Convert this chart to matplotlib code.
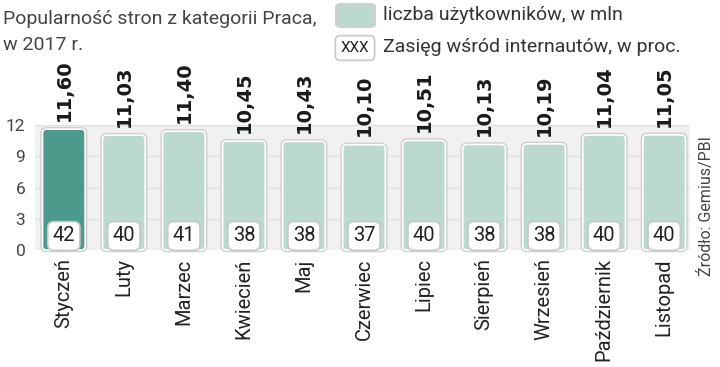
import matplotlib.pyplot as plt
from matplotlib.patches import FancyBboxPatch

miesiace = ["Styczeń", "Luty", "Marzec", "Kwiecień", "Maj", "Czerwiec", "Lipiec",
            "Sierpień", "Wrzesień", "Październik", "Listopad"]
uzytkownicy = [11.60, 11.03, 11.40, 10.45, 10.43, 10.10, 10.51, 10.13, 10.19, 11.04, 11.05]
zasieg = [42, 40, 41, 38, 38, 37, 40, 38, 38, 40, 40]
y_ticks = [0, 3, 6, 9, 12]

ciemny = "#4b9a8b"
jasny = "#bcd9d1"
plt.rcParams['font.family'] = ['Roboto', 'DejaVu Sans']

fig = plt.figure(figsize=(7.2, 3.67), dpi=100)
ax = fig.add_axes([35 / 720, 117 / 367, 655 / 720, 125 / 367])
ax.set_facecolor("#f1f1f1")
ax.set_ylim(0, 12)
ax.set_xlim(-0.48, 10.43)

x = list(range(len(miesiace)))
kolory = [ciemny] + [jasny] * (len(miesiace) - 1)
bars = ax.bar(x, uzytkownicy, width=0.71, color=kolory, zorder=2)

# zaokraglone slupki: szary cien + biala obwodka
aspekt = 60 / 10.4
for b, k in zip(bars, kolory):
    b.set_visible(False)
    for ec, lw, z in [("#cfcfcf", 3.2, 3), ("white", 1.2, 4)]:
        p = FancyBboxPatch((b.get_x(), 0), b.get_width(), b.get_height(),
                           boxstyle="round,pad=0,rounding_size=0.07",
                           mutation_aspect=aspekt,
                           facecolor=k, edgecolor=ec, linewidth=lw,
                           zorder=z, clip_on=False)
        ax.add_patch(p)

# wartosci nad slupkami
for xi, v in zip(x, uzytkownicy):
    ax.annotate(f"{v:.2f}".replace(".", ","), (xi, v), xytext=(0, 6),
                textcoords="offset points", rotation=90, ha="center", va="bottom",
                fontsize=14, fontweight="bold", family="DejaVu Sans",
                color="#1a1a1a", annotation_clip=False)

# zasieg w pudelkach
for xi, z in zip(x, zasieg):
    ax.text(xi, 1.35, str(z), ha="center", va="center", fontsize=14.5, color="#222",
            zorder=6,
            bbox=dict(boxstyle="round,pad=0.24,rounding_size=0.3",
                      facecolor="white", edgecolor="#c8c8c8", linewidth=1.2))

ax.set_yticks(y_ticks)
ax.set_yticklabels([str(t) for t in y_ticks], fontsize=12.5, color="#444")
ax.set_xticks(x)
ax.set_xticklabels(miesiace, rotation=90, fontsize=14.5, color="#222", va="top")
ax.tick_params(length=0, axis="both")
ax.tick_params(axis="x", pad=6)
ax.tick_params(axis="y", pad=7)
ax.grid(axis="y", color="#e0e0e0", linewidth=1, zorder=0)
for s in ax.spines.values():
    s.set_visible(False)

fig.text(3 / 720, 1 - 19 / 367, "Popularność stron z kategorii Praca,", fontsize=14,
         color="#444", va="center")
fig.text(3 / 720, 1 - 45 / 367, "w 2017 r.", fontsize=14, color="#444", va="center")

# legenda
fig.patches.append(FancyBboxPatch((336 / 720, 1 - 27 / 367), 39 / 720, 23 / 367,
                                  boxstyle="round,pad=0,rounding_size=0.008",
                                  facecolor=jasny, edgecolor="#d0d0d0", linewidth=1.5,
                                  transform=fig.transFigure))
fig.text(383 / 720, 1 - 15 / 367, "liczba użytkowników, w mln", fontsize=14,
         color="#333", va="center")
fig.text(355 / 720, 1 - 48 / 367, "XXX", fontsize=11, color="#222", va="center", ha="center",
         bbox=dict(boxstyle="round,pad=0.35,rounding_size=0.3", facecolor="white",
                   edgecolor="#c8c8c8", linewidth=1.2))
fig.text(383 / 720, 1 - 47 / 367, "Zasięg wśród internautów, w proc.", fontsize=14,
         color="#333", va="center")

fig.text(706 / 720, 1 - 206 / 367, "Źródło: Gemius/PBI", fontsize=11.5, color="#444",
         rotation=90, ha="center", va="center")

fig.savefig("out.png", dpi=100, facecolor="white")
